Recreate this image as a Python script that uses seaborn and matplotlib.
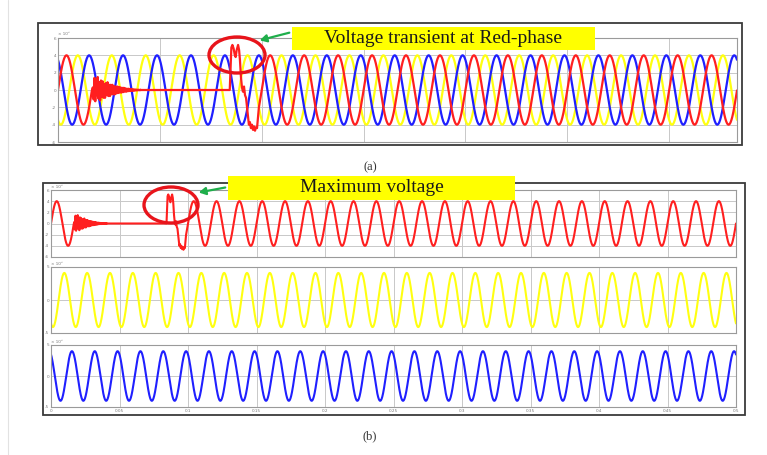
import numpy as np
import pandas as pd
import matplotlib
matplotlib.use("Agg")
import matplotlib.pyplot as plt
from matplotlib.patches import Rectangle, Ellipse, FancyArrowPatch
from matplotlib.lines import Line2D
import seaborn as sns

sns.set_theme(style="white")
plt.rcParams['font.family'] = ['DejaVu Sans']

# ---------------- data ----------------
FREQ_HZ = 60.0
DT = 0.0001
PHASE_DEG = {"red": 0.0, "yellow": -120.0, "blue": 120.0}
AMPLITUDE = {"red": 4.0, "yellow": 4.0, "blue": 4.0}   # x 10^5 V
AMPLITUDE_B = {"red": 4.0, "yellow": 4.1, "blue": 4.0}

# red-phase fault: first cycle normal, then decaying noise, flat zero, transient
FAULT_START = 0.0167
NOISE_DT = 0.0004
NOISE_V = [0.3, -1.1, 1.4, -1.3, 1.2, -0.6, 1.5, -1.0, 0.9, -1.2, 1.1, -0.8,
           1.0, -0.9, 0.7, -0.9, 0.8, -0.6, 0.9, -0.7, 0.6, -0.7, 0.6, -0.5,
           0.6, -0.5, 0.45, -0.5, 0.4, -0.4, 0.4, -0.35, 0.35, -0.3, 0.3, -0.3,
           0.25, -0.25, 0.25, -0.2, 0.2, -0.2, 0.15, -0.15, 0.15, -0.12, 0.12,
           -0.1, 0.1, -0.1, 0.08, -0.08, 0.06, -0.06, 0.05, -0.04, 0.04, -0.03,
           0.02, 0.0]
FLAT_T = [0.0404, 0.0840]
FLAT_V = [0.0, 0.0]
TRANS_T = [0.0843, 0.0847, 0.0851, 0.0856, 0.0862, 0.0868, 0.0872, 0.0877,
           0.0884, 0.0889, 0.0893, 0.0898, 0.0903, 0.0908, 0.0913, 0.0918,
           0.0923, 0.0930, 0.0937, 0.0942, 0.0947, 0.0952, 0.0957, 0.0962,
           0.0967, 0.0972, 0.0977, 0.0982]
TRANS_V = [0.0, 2.5, 4.9, 5.2, 4.8, 4.0, 3.8, 4.6, 5.2, 4.6, 3.5, 1.5, 0.3,
           -0.2, 0.4, -0.6, -0.9, -2.5, -4.0, -3.7, -4.4, -4.0, -4.6, -4.2,
           -4.7, -4.3, -4.4, -3.0]
RECOVER_T = 0.0986

XLIM_A = (0.0, 0.3333)
XLIM_B = (0.0, 0.5)
XTICKS = [0, 0.05, 0.1, 0.15, 0.2, 0.25, 0.3, 0.35, 0.4, 0.45, 0.5]
XTICK_LABELS = ["0", "0.05", "0.1", "0.15", "0.2", "0.25", "0.3", "0.35", "0.4", "0.45", "0.5"]
YTICKS_RED = [-6, -4, -2, 0, 2, 4, 6]
YTICKS_YB = [-5, 0, 5]

TITLE_A = "Voltage transient at Red-phase"
TITLE_B = "Maximum voltage"
CAPTION_A = "(a)"
CAPTION_B = "(b)"

COLORS = {"red": "#ff1f1f", "yellow": "#ffff10", "blue": "#1f1fff"}


def steady(phase, amp, t):
    return amp * np.sin(2 * np.pi * FREQ_HZ * t + np.deg2rad(PHASE_DEG[phase]))


def red_series(t_end, amp):
    t1 = np.arange(0.0, FAULT_START, DT)
    v1 = steady("red", amp, t1)
    tn = FAULT_START + NOISE_DT * np.arange(1, len(NOISE_V) + 1)
    vn = np.array(NOISE_V)
    t2 = np.arange(RECOVER_T, t_end + DT, DT)
    v2 = steady("red", amp, t2)
    t = np.concatenate([t1, tn, FLAT_T, TRANS_T, t2])
    v = np.concatenate([v1, vn, FLAT_V, TRANS_V, v2])
    return pd.DataFrame({"t": t, "v": v})


def healthy_series(phase, t_end, amp):
    t = np.arange(0.0, t_end + DT, DT)
    return pd.DataFrame({"t": t, "v": steady(phase, amp, t)})


# ---------------- figure ----------------
W, H = 767, 455
fig = plt.figure(figsize=(W / 100, H / 100), dpi=100)
fig.patch.set_facecolor("white")


def fx(x):
    return x / W


def fy(y):
    return 1 - y / H


def axes_px(l, t, r, b):
    return fig.add_axes([fx(l), fy(b), (r - l) / W, (b - t) / H])


def style_axes(ax, xlim, yticks, show_xlabels=False):
    ax.set_xlim(*xlim)
    ax.set_ylim(yticks[0], yticks[-1])
    ax.set_xticks([x for x in XTICKS if x <= xlim[1] + 1e-9])
    if show_xlabels:
        ax.set_xticklabels(XTICK_LABELS[:len(ax.get_xticks())])
    else:
        ax.set_xticklabels([])
    ax.set_yticks(yticks)
    ax.set_yticklabels([str(v) for v in yticks])
    ax.tick_params(axis="both", direction="in", length=2, width=0.5,
                   labelsize=3, colors="#777777", pad=1.5)
    ax.grid(True, color="#c8c8c8", lw=0.7)
    for s in ax.spines.values():
        s.set_color("#9a9a9a")
        s.set_linewidth(0.8)
    ax.set_xlabel("")
    ax.set_ylabel("")
    ax.set_facecolor("white")
    ax.text(0.0, 1.02, "× 10⁵", transform=ax.transAxes, fontsize=3,
            color="#777777", ha="left", va="bottom")


# ---- panel (a) ----
axA = axes_px(58, 38, 737, 142)
for ph in ["yellow", "blue"]:
    sns.lineplot(data=healthy_series(ph, XLIM_A[1], AMPLITUDE[ph]), x="t", y="v",
                 ax=axA, color=COLORS[ph], lw=1.6, estimator=None, sort=False)
sns.lineplot(data=red_series(XLIM_A[1], AMPLITUDE["red"]), x="t", y="v", ax=axA,
             color=COLORS["red"], lw=1.6, estimator=None, sort=False)
style_axes(axA, XLIM_A, YTICKS_RED)

# ---- panel (b) ----
axR = axes_px(51, 190, 736, 257)
sns.lineplot(data=red_series(XLIM_B[1], AMPLITUDE_B["red"]), x="t", y="v", ax=axR,
             color=COLORS["red"], lw=1.5, estimator=None, sort=False)
style_axes(axR, XLIM_B, YTICKS_RED)

axY = axes_px(51, 267, 736, 333)
sns.lineplot(data=healthy_series("yellow", XLIM_B[1], AMPLITUDE_B["yellow"]), x="t", y="v",
             ax=axY, color=COLORS["yellow"], lw=1.5, estimator=None, sort=False)
style_axes(axY, XLIM_B, YTICKS_YB)

axBl = axes_px(51, 345, 736, 407)
sns.lineplot(data=healthy_series("blue", XLIM_B[1], AMPLITUDE_B["blue"]), x="t", y="v",
             ax=axBl, color=COLORS["blue"], lw=1.5, estimator=None, sort=False)
style_axes(axBl, XLIM_B, YTICKS_YB, show_xlabels=True)

# ---- frames ----
for (l, t, r, b) in [(38, 23, 742, 145), (43, 183, 745, 415)]:
    fig.add_artist(Rectangle((fx(l), fy(b)), (r - l) / W, (b - t) / H,
                             transform=fig.transFigure, fill=False,
                             edgecolor="#3a3a3a", lw=1.3, zorder=5))
fig.add_artist(Line2D([fx(8), fx(8)], [0, 1], transform=fig.transFigure,
                      color="#e2e2e2", lw=0.8))

# ---- annotation boxes ----
def label_box(l, t, r, b, text):
    fig.add_artist(Rectangle((fx(l), fy(b)), (r - l) / W, (b - t) / H,
                             transform=fig.transFigure, facecolor="#ffff00",
                             edgecolor="none", zorder=6))
    fig.text(fx((l + r) / 2), fy((t + b) / 2), text, ha="center", va="center",
             fontsize=14, fontweight="normal",
             family=["Liberation Serif", "DejaVu Serif"],
             color="#1a1a1a", zorder=7)


label_box(292, 27, 595, 50, TITLE_A)
label_box(228, 176, 515, 200, TITLE_B)

# ---- ellipses ----
for (cx, cy, w, h) in [(237, 55, 56, 36), (171, 205, 54, 36)]:
    fig.add_artist(Ellipse((fx(cx), fy(cy)), w / W, h / H, transform=fig.transFigure,
                           fill=False, edgecolor="#e8141b", lw=2.4, zorder=8))

# ---- arrows ----
for (x0, y0, x1, y1) in [(292, 32, 257, 41), (228, 187, 196, 193)]:
    fig.add_artist(FancyArrowPatch(
        (fx(x0), fy(y0)), (fx(x1), fy(y1)), transform=fig.transFigure,
        arrowstyle="-|>,head_length=4,head_width=2.2", color="#1fae4b",
        lw=1.6, zorder=8))

# ---- captions ----
fig.text(fx(370), fy(167), CAPTION_A, ha="center", va="center", fontsize=9,
         family=["Liberation Serif", "DejaVu Serif"], color="#333333")
fig.text(fx(370), fy(436), CAPTION_B, ha="center", va="center", fontsize=9,
         family=["Liberation Serif", "DejaVu Serif"], color="#333333")

fig.savefig("out.png", dpi=100, facecolor="white")
